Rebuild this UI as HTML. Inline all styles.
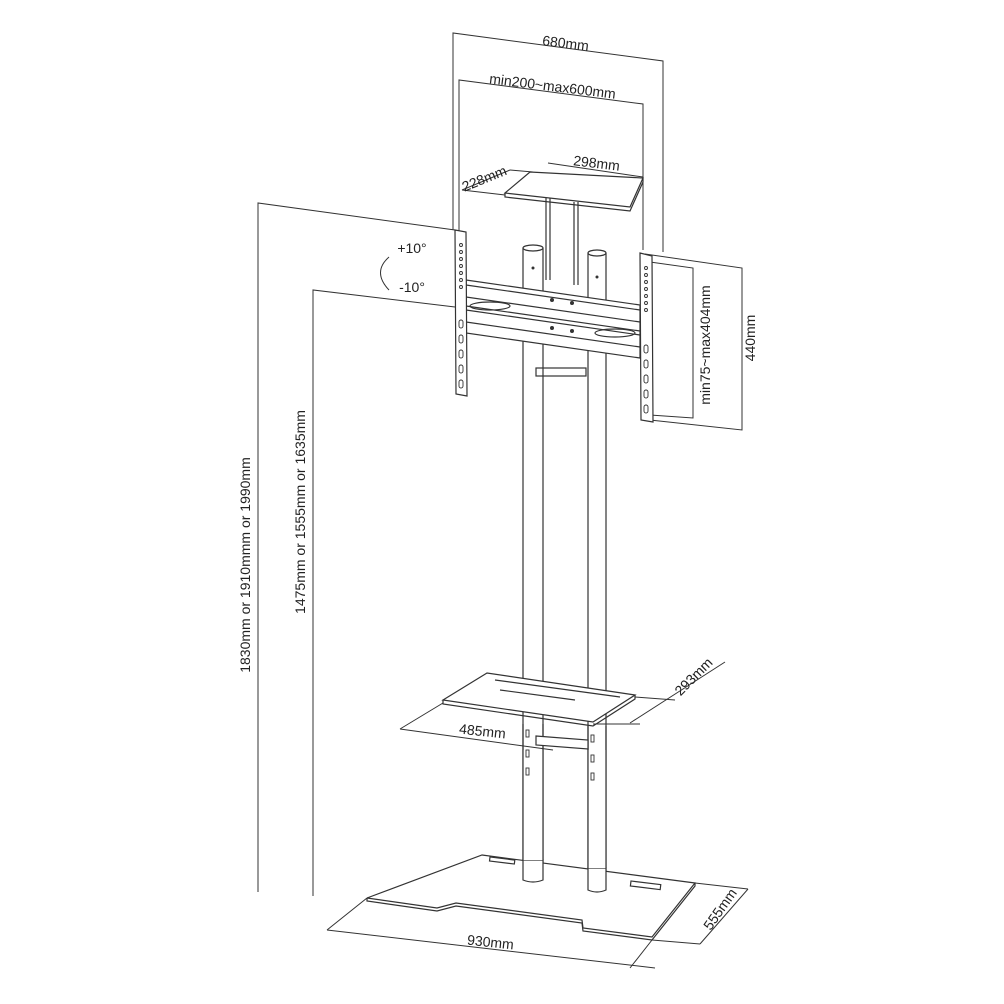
<!DOCTYPE html>
<html><head><meta charset="utf-8"><style>
html,body{margin:0;padding:0;background:#fff;}
svg{display:block;}
text{font-family:"Liberation Sans",Arial,sans-serif;font-size:14px;font-weight:normal;fill:#222;}
</style></head><body>
<svg width="1004" height="1004" viewBox="0 0 1004 1004" xmlns="http://www.w3.org/2000/svg">
<g fill="none" stroke="#333" stroke-width="1">
<polyline points="453,230 453,33 663,61 663,252"/>
<polyline points="459,235 459,80 643,104 643,250"/>
<polyline points="455,230 258,203 258,892"/>
<polyline points="455,307 313,290 313,896"/>
<polyline points="645,254 742,268 742,430 650,420"/>
<polyline points="650,262 693,268 693,418 650,415"/>
<path d="M389,257 Q372,272 389,290"/>
<line x1="462" y1="190" x2="505" y2="195"/>
<line x1="462" y1="190" x2="510" y2="170"/>
<line x1="510" y1="170" x2="533" y2="172"/>
<line x1="548" y1="163" x2="643" y2="177"/>
<g stroke-width="1.2">
<ellipse cx="533" cy="248" rx="10" ry="3"/>
<line x1="523" y1="248" x2="523" y2="880"/><line x1="543" y1="248" x2="543" y2="880"/>
<ellipse cx="597" cy="253" rx="9" ry="3"/>
<line x1="588" y1="253" x2="588" y2="890"/><line x1="606" y1="253" x2="606" y2="890"/>
<line x1="546" y1="198" x2="546" y2="280"/><line x1="578" y1="202" x2="578" y2="285"/>
<line x1="550" y1="198" x2="550" y2="280"/><line x1="574" y1="202" x2="574" y2="285"/>
<rect x="536" y="368" width="50" height="8"/>
<polygon points="505,193 530,172 643,178 630,207" fill="#fff"/>
<polyline points="505,193 505,197 630,211 643,182 643,178"/>
<polygon points="466,280 640,305 640,358 466,333" fill="#fff"/>
<line x1="466" y1="285" x2="640" y2="310"/>
<line x1="466" y1="297" x2="640" y2="322"/>
<line x1="466" y1="306" x2="640" y2="331"/>
<line x1="466" y1="310" x2="640" y2="335"/>
<line x1="466" y1="322" x2="640" y2="347"/>
<ellipse cx="490" cy="306" rx="20" ry="4"/>
<ellipse cx="615" cy="333" rx="20" ry="4"/>
<polygon points="455,230 466,232 467,396 456,394" fill="#fff"/>
<polygon points="640,253 652,256 653,422 641,420" fill="#fff"/>
<polygon points="443,700 487,673 635,695 593,722" fill="#fff"/>
<polyline points="443,700 443,704 593,726 635,699 635,695"/>
<line x1="500" y1="690" x2="575" y2="700"/>
<line x1="495" y1="680" x2="620" y2="697"/>
<polygon points="482,855 695,883 652,937 583,928 582,920 456,903 437,908 367,898" fill="#fff"/>
<polyline points="367,898 367,901 437,911 456,906 582,923 583,931 652,940 695,886 695,883"/>
<rect x="490" y="857" width="25" height="4" transform="rotate(7 490 857)"/>
<rect x="631" y="881" width="30" height="5" transform="rotate(7 631 881)"/>
</g>
</g>
<g fill="#fff" stroke="#333" stroke-width="1.2">
<path d="M523,860 L523,880 Q533,884 543,880 L543,860 Z"/>
<path d="M588,868 L588,890 Q597,894 606,890 L606,868 Z"/>
<rect x="523" y="750" width="20" height="110" stroke="none"/>
<rect x="588" y="750" width="18" height="118" stroke="none"/>
</g>
<g fill="none" stroke="#333" stroke-width="1.2">
<line x1="523" y1="724" x2="523" y2="860"/><line x1="543" y1="724" x2="543" y2="860"/>
<line x1="588" y1="726" x2="588" y2="868"/><line x1="606" y1="726" x2="606" y2="868"/>
<polygon points="536,736 588,740 588,749 536,745" fill="#fff"/>
</g>
<g fill="none" stroke="#333" stroke-width="1">
<line x1="400" y1="729" x2="553" y2="750"/>
<line x1="400" y1="729" x2="443" y2="703"/>
<line x1="630" y1="723" x2="725" y2="662"/>
<line x1="635" y1="697" x2="675" y2="700"/>
<line x1="593" y1="724" x2="640" y2="724"/>
<line x1="327" y1="930" x2="655" y2="968"/>
<line x1="327" y1="930" x2="367" y2="898"/>
<line x1="652" y1="940" x2="630" y2="968"/>
<line x1="695" y1="883" x2="748" y2="889"/>
<line x1="748" y1="889" x2="700" y2="944"/>
<line x1="652" y1="940" x2="700" y2="944"/>
</g>
<g fill="none" stroke="#333" stroke-width="0.9">
<circle cx="461" cy="245" r="1.5"/><circle cx="461" cy="252" r="1.5"/><circle cx="461" cy="259" r="1.5"/><circle cx="461" cy="266" r="1.5"/><circle cx="461" cy="273" r="1.5"/><circle cx="461" cy="280" r="1.5"/><circle cx="461" cy="287" r="1.5"/>
<rect x="459" y="320" width="4" height="8" rx="2"/><rect x="459" y="335" width="4" height="8" rx="2"/><rect x="459" y="350" width="4" height="8" rx="2"/><rect x="459" y="365" width="4" height="8" rx="2"/><rect x="459" y="380" width="4" height="8" rx="2"/>
<circle cx="646" cy="268" r="1.5"/><circle cx="646" cy="275" r="1.5"/><circle cx="646" cy="282" r="1.5"/><circle cx="646" cy="289" r="1.5"/><circle cx="646" cy="296" r="1.5"/><circle cx="646" cy="303" r="1.5"/><circle cx="646" cy="310" r="1.5"/>
<rect x="644" y="345" width="4" height="8" rx="2"/><rect x="644" y="360" width="4" height="8" rx="2"/><rect x="644" y="375" width="4" height="8" rx="2"/><rect x="644" y="390" width="4" height="8" rx="2"/><rect x="644" y="405" width="4" height="8" rx="2"/>
<rect x="526" y="730" width="3" height="7"/><rect x="526" y="750" width="3" height="7"/><rect x="526" y="768" width="3" height="7"/><rect x="591" y="735" width="3" height="7"/><rect x="591" y="755" width="3" height="7"/><rect x="591" y="773" width="3" height="7"/>
</g>
<g fill="#333">
<circle cx="533" cy="268" r="1.5"/><circle cx="597" cy="277" r="1.5"/>
<circle cx="552" cy="300" r="2"/><circle cx="572" cy="303" r="2"/><circle cx="552" cy="328" r="2"/><circle cx="572" cy="331" r="2"/>
</g>
<text x="565" y="48" transform="rotate(7 565 48)" text-anchor="middle">680mm</text>
<text x="552" y="91" transform="rotate(7 552 91)" text-anchor="middle">min200~max600mm</text>
<text x="596" y="168" transform="rotate(7 596 168)" text-anchor="middle">298mm</text>
<text x="486" y="183" transform="rotate(-22 486 183)" text-anchor="middle">228mm</text>
<text x="412" y="253" text-anchor="middle">+10°</text>
<text x="412" y="292" text-anchor="middle">-10°</text>
<text x="250" y="565" transform="rotate(-90 250 565)" text-anchor="middle">1830mm or 1910mmm or 1990mm</text>
<text x="305" y="512" transform="rotate(-90 305 512)" text-anchor="middle">1475mm or 1555mm or 1635mm</text>
<text x="710" y="345" transform="rotate(-90 710 345)" text-anchor="middle">min75~max404mm</text>
<text x="755" y="338" transform="rotate(-90 755 338)" text-anchor="middle">440mm</text>
<text x="697" y="680" transform="rotate(-45 697 680)" text-anchor="middle">293mm</text>
<text x="482" y="736" transform="rotate(6 482 736)" text-anchor="middle">485mm</text>
<text x="490" y="947" transform="rotate(6 490 947)" text-anchor="middle">930mm</text>
<text x="724" y="912" transform="rotate(-55 724 912)" text-anchor="middle">555mm</text>
</svg>
</body></html>
